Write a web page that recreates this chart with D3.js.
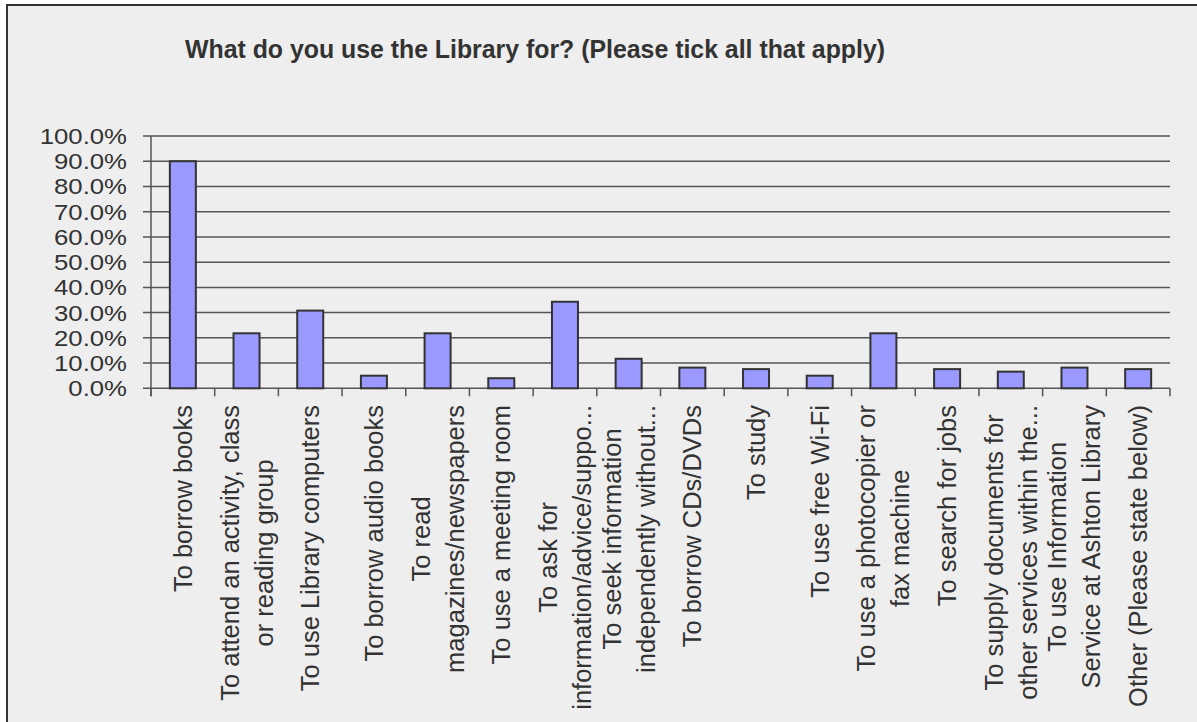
<!DOCTYPE html>
<html>
<head>
<meta charset="utf-8">
<script src="https://cdn.jsdelivr.net/npm/d3@7"></script>
<style>
  html, body { margin: 0; padding: 0; background: #ffffff; }
  svg { display: block; }
  text { font-family: "Liberation Sans", Arial, sans-serif; fill: #333333; }
</style>
</head>
<body>
<svg id="chart" width="1197" height="722"></svg>
<script>
const title = "What do you use the Library for? (Please tick all that apply)";
const categories = [
  ["To borrow books"],
  ["To attend an activity, class", "or reading group"],
  ["To use Library computers"],
  ["To borrow audio books"],
  ["To read", "magazines/newspapers"],
  ["To use a meeting room"],
  ["To ask for", "information/advice/suppo..."],
  ["To seek information", "independently without..."],
  ["To borrow CDs/DVDs"],
  ["To study"],
  ["To use free Wi-Fi"],
  ["To use a photocopier or", "fax machine"],
  ["To search for jobs"],
  ["To supply documents for", "other services within the..."],
  ["To use Information", "Service at Ashton Library"],
  ["Other (Please state below)"]
];
const values = [90.0, 21.8, 30.8, 5.0, 21.8, 4.0, 34.3, 11.7, 8.2, 7.6, 5.0, 21.8, 7.6, 6.6, 8.2, 7.6];
const yTicks = [0, 10, 20, 30, 40, 50, 60, 70, 80, 90, 100];

const svg = d3.select("#chart");
const W = 1197, H = 722;

// frame
svg.append("rect").attr("x", 7).attr("y", 5).attr("width", W + 20).attr("height", H + 20)
  .attr("fill", "#eeeeee").attr("stroke", "#333333").attr("stroke-width", 2);

const plot = { left: 151, right: 1170, top: 136, bottom: 388.3 };

const x = d3.scaleBand().domain(d3.range(categories.length))
  .range([plot.left, plot.right]).paddingInner(0).paddingOuter(0);
const y = d3.scaleLinear().domain([0, 100]).range([plot.bottom, plot.top]);

// title
svg.append("text")
  .attr("x", 535).attr("y", 58)
  .attr("text-anchor", "middle")
  .attr("font-size", 26).attr("font-weight", "bold")
  .attr("textLength", 700).attr("lengthAdjust", "spacingAndGlyphs")
  .text(title);

// gridlines
svg.append("g").selectAll("line").data(yTicks).join("line")
  .attr("x1", plot.left - 8).attr("x2", plot.right)
  .attr("y1", d => y(d)).attr("y2", d => y(d))
  .attr("stroke", "#555555").attr("stroke-width", 1.5);

// y axis labels (horizontally stretched like the reference)
const sx = 1.17;
svg.append("g").attr("transform", `scale(${sx},1)`)
  .selectAll("text").data(yTicks).join("text")
  .attr("x", 127 / sx).attr("y", d => y(d)).attr("dy", "0.36em")
  .attr("text-anchor", "end").attr("font-size", 22)
  .text(d => d.toFixed(1) + "%");

// y axis line
svg.append("line").attr("x1", plot.left).attr("x2", plot.left)
  .attr("y1", plot.top).attr("y2", plot.bottom + 8)
  .attr("stroke", "#555555").attr("stroke-width", 1.5);

// x ticks at boundaries
const bounds = d3.range(categories.length + 1).map(i => i === categories.length ? plot.right : x(i));
svg.append("g").selectAll("line").data(bounds).join("line")
  .attr("x1", d => d).attr("x2", d => d)
  .attr("y1", plot.bottom).attr("y2", plot.bottom + 8)
  .attr("stroke", "#555555").attr("stroke-width", 1.5);

// bars
const bw = 26;
svg.append("g").selectAll("rect").data(values).join("rect")
  .attr("x", (d, i) => x(i) + x.bandwidth() / 2 - bw / 2)
  .attr("width", bw)
  .attr("y", d => y(d))
  .attr("height", d => y(0) - y(d))
  .attr("fill", "#9999ff").attr("stroke", "#333333").attr("stroke-width", 2);

// x labels
const lh = 34;
const labelTop = 405;
const lg = svg.append("g");
categories.forEach((lines, i) => {
  const cx = x(i) + x.bandwidth() / 2;
  const t = lg.append("text")
    .attr("transform", `translate(${cx},${labelTop}) rotate(-90)`)
    .attr("font-size", 25.5);
  const spans = lines.map((ln, j) => t.append("tspan").text(ln));
  const lens = spans.map(s => s.node().getComputedTextLength());
  const maxLen = d3.max(lens);
  spans.forEach((s, j) => {
    s.attr("x", -maxLen / 2).attr("text-anchor", "middle")
     .attr("y", (j - (lines.length - 1) / 2) * lh + 9);
  });
});
</script>
</body>
</html>
